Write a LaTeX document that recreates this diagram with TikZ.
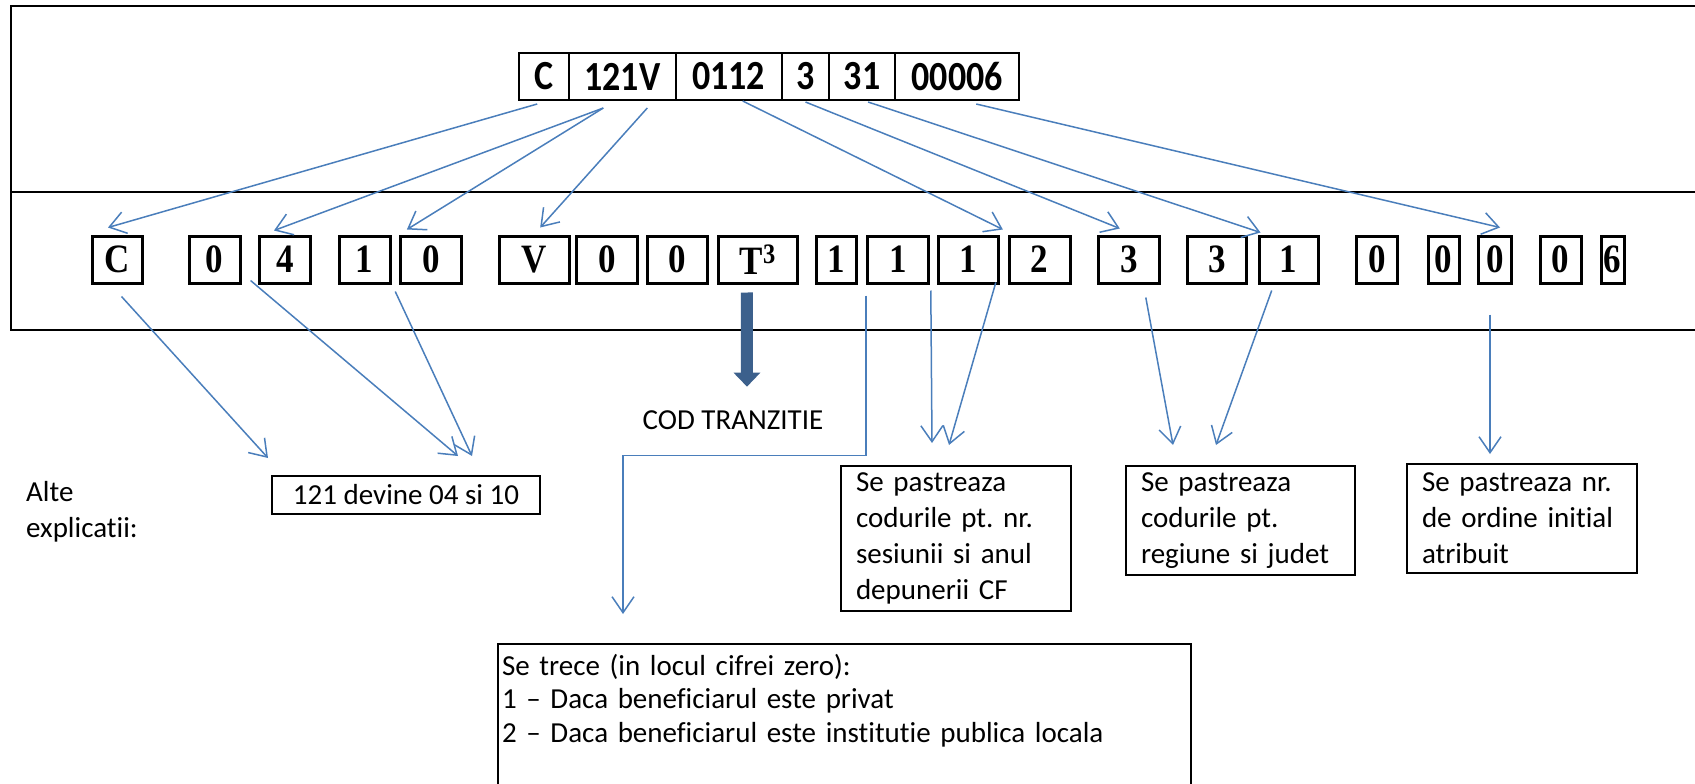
\documentclass[tikz,border=0pt]{standalone}
\usepackage{fontspec}
\usepackage{graphicx}
\usetikzlibrary{arrows.meta}
\setmainfont{Carlito}[Ligatures={TeX,NoCommon}]
\newfontfamily\serifbf{Liberation Serif}
\definecolor{linkblue}{RGB}{74,126,187}
\definecolor{fatblue}{RGB}{60,96,140}
\newcommand{\tallt}[1]{\scalebox{1}[1.15]{#1}}
\frenchspacing
\tikzset{codecell/.style = {draw, line width=2pt, minimum height=47pt, inner sep=0pt, font=\fontsize{36}{40}\selectfont\bfseries}}
\tikzset{digitbox/.style = {draw, line width=3pt, minimum height=47pt, inner sep=0pt, font=\serifbf\bfseries\fontsize{35}{40}\selectfont}}
\tikzset{notebox/.style = {draw, line width=2pt, anchor=north west, align=left, inner xsep=15pt, font=\fontsize{29}{36}\selectfont}}
\tikzset{textonly/.style = {inner sep=0pt, font=\fontsize{29}{36}\selectfont}}
\tikzset{link/.style = {draw=linkblue, line width=1.5pt, -{Straight Barb[length=16pt,width=22pt]}}}
\tikzset{fat/.style = {draw=fatblue, line width=12pt, -{Triangle[length=14pt,width=26pt]}}}

\begin{document}
\frenchspacing
\begin{tikzpicture}[x=1pt,y=-1pt]
\useasboundingbox (0,0) rectangle (1695,784);
% frame
\draw[line width=2pt] (1695,6) -- (11,6) -- (11,330) -- (1695,330);
\draw[line width=2pt] (11,192) -- (1695,192);

% old code
\node[codecell, minimum width=49.5pt] (tC) at (544.2,76.5) {\tallt{C}};
\node[codecell, minimum width=106.6pt] (tV) at (622.3,76.5) {\tallt{121V}};
\node[codecell, minimum width=106.1pt] (tY) at (728.7,76.5) {\tallt{0112}};
\node[codecell, minimum width=47.5pt] (tD) at (805.5,76.5) {\tallt{3}};
\node[codecell, minimum width=65.8pt] (tR) at (862.1,76.5) {\tallt{31}};
\node[codecell, minimum width=124.3pt] (tN) at (957.2,76.5) {\tallt{00006}};

% new code
\node[digitbox, minimum width=49.6pt] (rC) at (117.5,259.5) {\tallt{C}};
\node[digitbox, minimum width=50.7pt] (r0a) at (214.7,259.5) {\tallt{0}};
\node[digitbox, minimum width=51.4pt] (r4) at (285,259.5) {\tallt{4}};
\node[digitbox, minimum width=50.7pt] (r1a) at (364.7,259.5) {\tallt{1}};
\node[digitbox, minimum width=60.3pt] (r0b) at (430.9,259.5) {\tallt{0}};
\node[digitbox, minimum width=69.7pt] (rV) at (534.2,259.5) {\tallt{V}};
\node[digitbox, minimum width=60.6pt] (r0c) at (607,259.5) {\tallt{0}};
\node[digitbox, minimum width=60pt] (r0d) at (677.3,259.5) {\tallt{0}};
\node[digitbox, minimum width=79pt] (rT) at (757.8,259.5) {\tallt{T\textsuperscript{3}}};
\node[digitbox, minimum width=40pt] (r1b) at (836.7,259.5) {\tallt{1}};
\node[digitbox, minimum width=61pt] (r1c) at (897.8,259.5) {\tallt{1}};
\node[digitbox, minimum width=60pt] (r1d) at (968.3,259.5) {\tallt{1}};
\node[digitbox, minimum width=60.7pt] (r2) at (1039.7,259.5) {\tallt{2}};
\node[digitbox, minimum width=61pt] (r3a) at (1128.8,259.5) {\tallt{3}};
\node[digitbox, minimum width=59pt] (r3b) at (1217.2,259.5) {\tallt{3}};
\node[digitbox, minimum width=59.3pt] (r1e) at (1288.7,259.5) {\tallt{1}};
\node[digitbox, minimum width=41pt] (r0e) at (1377.2,259.5) {\tallt{0}};
\node[digitbox, minimum width=30.7pt] (r0f) at (1443.7,259.5) {\tallt{0}};
\node[digitbox, minimum width=33.4pt] (r0g) at (1495,259.5) {\tallt{0}};
\node[digitbox, minimum width=41pt] (r0h) at (1560.5,259.5) {\tallt{0}};
\node[digitbox, minimum width=23pt] (r6) at (1612.5,259.5) {\tallt{6}};

% notes
\node[textonly] (cod) at (733,420) {COD TRANZITIE};
\node[textonly, anchor=north west, align=left] (alte) at (26,481) {Alte\\explicatii:};
\node[notebox, minimum width=268pt, minimum height=38pt] (ex) at (271,475) {121 devine 04 si 10};
\node[notebox, text width=200pt, minimum height=145pt] (bA) at (840,465) {Se pastreaza\\codurile pt. nr.\\sesiunii si anul\\depunerii CF};
\node[notebox, text width=199pt, minimum height=109pt] (bB) at (1125,465) {Se pastreaza\\codurile pt.\\regiune si judet};
\node[notebox, text width=200pt, minimum height=109pt] (bC) at (1406,463) {Se pastreaza nr.\\de ordine initial\\atribuit};
\node[notebox, inner xsep=4pt, inner ysep=10pt, text width=685pt, font=\fontsize{29}{33.5}\selectfont] (bD) at (497,643) {Se trece (in locul cifrei zero):\\1 – Daca beneficiarul este privat\\2 – Daca beneficiarul este institutie publica locala\\[40pt]\mbox{}};

%edges
\draw[link] ([xshift=-7pt,yshift=-3pt]tC.south) -- ([xshift=-9.5pt,yshift=7pt]rC.north);
\draw[link] ([xshift=-19pt,yshift=-7pt]tV.south) -- ([xshift=-11pt,yshift=4pt]r4.north);
\draw[link] ([xshift=-19pt,yshift=-7pt]tV.south) -- ([xshift=-24pt,yshift=5pt]r0b.north);
\draw[link] ([xshift=25pt,yshift=-7pt]tV.south) -- ([xshift=6pt,yshift=7pt]rV.north);
\draw[link] ([xshift=14pt]tY.south) -- ([xshift=-5pt,yshift=5pt]r2.north west);
\draw[link] ([yshift=-1pt]tD.south) -- ([xshift=-9pt,yshift=6pt]r3a.north);
\draw[link] ([xshift=6pt,yshift=-1pt]tR.south) -- ([xshift=3pt,yshift=2pt]r1e.north west);
\draw[link] ([xshift=19pt,yshift=-3pt]tN.south) -- ([xshift=5pt,yshift=7pt]r0g.north);

\draw[link] ([xshift=4pt,yshift=-12pt]rC.south) -- ([xshift=-3pt,yshift=17pt]ex.north west);
\draw[link] ([xshift=9pt,yshift=4pt]r0a.south east) -- ([xshift=52pt,yshift=19pt]ex.north);
\draw[link] ([xshift=-4pt,yshift=-7pt]r0b.south west) -- ([xshift=66pt,yshift=19pt]ex.north);
\draw[link] ([yshift=-11pt]r1c.south west) -- ++(0,160) -| ([xshift=126pt,yshift=29pt]bD.north west);
\draw[link] ([xshift=-6pt,yshift=-6pt]r1d.south west) -- ([xshift=92pt,yshift=22pt]bA.north west);
\draw[link] ([xshift=-4pt,yshift=2pt]r1d.south east) -- ([xshift=109pt,yshift=20pt]bA.north west);
\draw[link] ([xshift=17pt,yshift=-13pt]r3a.south) -- ([xshift=48pt,yshift=20pt]bB.north west);
\draw[link] ([xshift=-17pt,yshift=-6pt]r1e.south) -- ([xshift=91pt,yshift=20pt]bB.north west);
\draw[link] ([xshift=-5pt,yshift=-30pt]r0g.south) -- ([xshift=84pt,yshift=9pt]bC.north west);
\draw[fat] ([xshift=-11pt,yshift=-8pt]rT.south) -- ([xshift=14pt,yshift=23.6pt]cod.north);
\end{tikzpicture}
\end{document}
